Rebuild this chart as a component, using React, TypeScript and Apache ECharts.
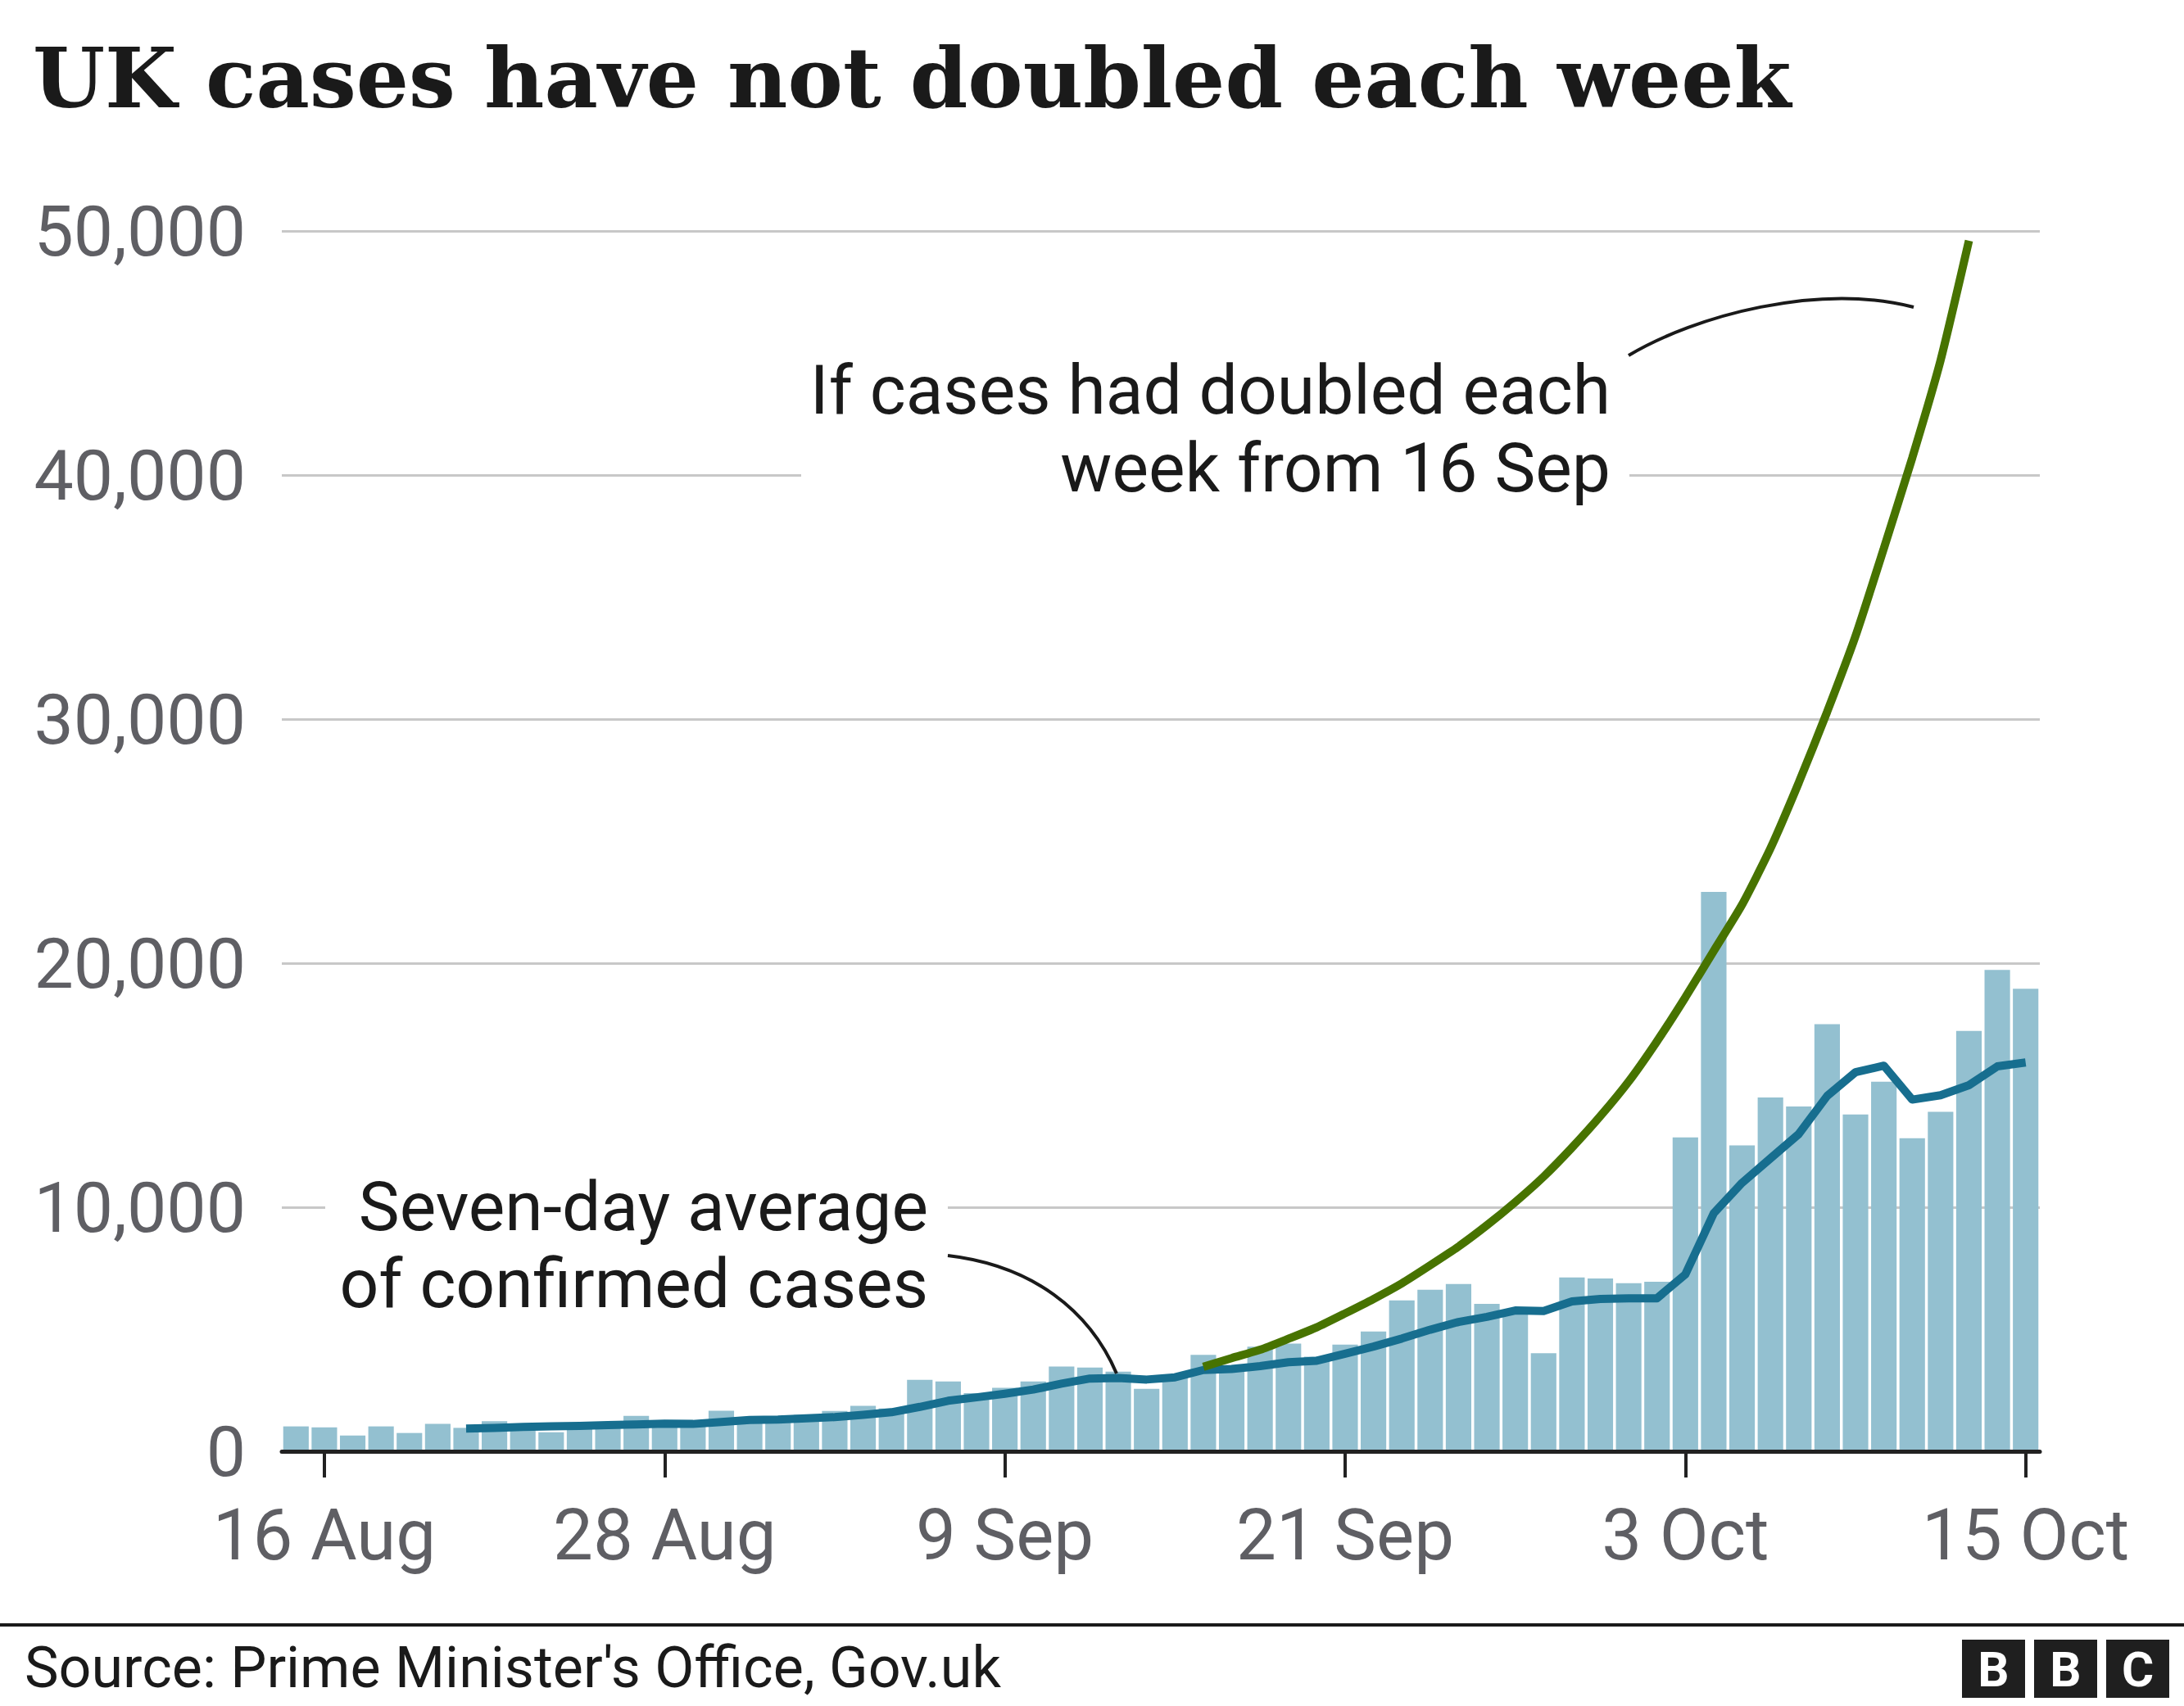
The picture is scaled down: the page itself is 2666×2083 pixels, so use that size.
import React, { useEffect, useRef } from 'react';
import * as echarts from 'echarts';

// ---- Data ----
const dates = [
  '15 Aug', '16 Aug', '17 Aug', '18 Aug', '19 Aug', '20 Aug', '21 Aug', '22 Aug', '23 Aug', '24 Aug',
  '25 Aug', '26 Aug', '27 Aug', '28 Aug', '29 Aug', '30 Aug', '31 Aug',
  '1 Sep', '2 Sep', '3 Sep', '4 Sep', '5 Sep', '6 Sep', '7 Sep', '8 Sep', '9 Sep', '10 Sep',
  '11 Sep', '12 Sep', '13 Sep', '14 Sep', '15 Sep', '16 Sep', '17 Sep', '18 Sep', '19 Sep', '20 Sep',
  '21 Sep', '22 Sep', '23 Sep', '24 Sep', '25 Sep', '26 Sep', '27 Sep', '28 Sep', '29 Sep', '30 Sep',
  '1 Oct', '2 Oct', '3 Oct', '4 Oct', '5 Oct', '6 Oct', '7 Oct', '8 Oct', '9 Oct', '10 Oct',
  '11 Oct', '12 Oct', '13 Oct', '14 Oct', '15 Oct',
];

const tickDates = ['16 Aug', '28 Aug', '9 Sep', '21 Sep', '3 Oct', '15 Oct'];

const dailyCases = [
  1020, 980, 650, 1020, 750, 1120, 960, 1230, 1050, 780,
  950, 1050, 1450, 1100, 1050, 1660, 1250,
  1300, 1490, 1650, 1860, 1750, 2930, 2860, 2380, 2600, 2860,
  3470, 3430, 3260, 2560, 3050, 3950, 3400, 4290, 4410, 3880,
  4370, 4910, 6180, 6620, 6850, 6040, 5750, 4020, 7120, 7080,
  6890, 6950, 12860, 22920, 12530, 14500, 14130, 17500, 13800, 15140,
  12830, 13910, 17220, 19720, 18950,
];

const sevenDayAverage = [
  null, null, null, null, null, null, 930, 960, 1000, 1020,
  1040, 1070, 1100, 1130, 1120, 1200, 1280,
  1300, 1350, 1400, 1490, 1600, 1820, 2070, 2210, 2360, 2530,
  2770, 2980, 3000, 2940, 3030, 3330, 3370, 3490, 3650, 3710,
  4000, 4290, 4620, 4980, 5300, 5510, 5770, 5750, 6140, 6240,
  6270, 6270, 7250, 9750, 11000, 12000, 13000, 14560, 15530, 15800,
  14410, 14590, 15000, 15770, 15930,
];

const doubledEachWeek = [
  null, null, null, null, null, null, null, null, null, null,
  null, null, null, null, null, null, null,
  null, null, null, null, null, null, null, null, null, null,
  null, null, null, null, null, 3460, 3820, 4160, 4610, 5080,
  5650, 6240, 6880, 7620, 8390, 9260, 10210, 11250, 12440, 13730,
  15150, 16800, 18600, 20500, 22400, 24700, 27400, 30300, 33400, 37000,
  40700, 44700, 49600, null, null,
];

const titleText = 'UK cases have not doubled each week';
const sourceText = "Source: Prime Minister's Office, Gov.uk";
const doubledLabel = 'If cases had doubled each\nweek from 16 Sep';
const averageLabel = 'Seven-day average\nof confirmed cases';

const W = 2666;
const H = 2083;
const SANS = 'Roboto, "Open Sans", sans-serif';

function fmt(v: number): string {
  return String(v).replace(/\B(?=(\d{3})+(?!\d))/g, ',');
}

export default function App() {
  const ref = useRef<HTMLDivElement>(null);

  useEffect(() => {
    if (!ref.current) return;
    const chart = echarts.init(ref.current, undefined, { renderer: 'svg', width: W, height: H });

    const isTick = (_i: number, v: string) => tickDates.includes(v);

    chart.setOption({
      animation: false,
      backgroundColor: '#ffffff',
      grid: { left: 344, right: 176, top: 282, bottom: 311, containLabel: false },
      xAxis: {
        type: 'category',
        data: dates,
        boundaryGap: true,
        axisLine: { show: true, lineStyle: { color: '#222222', width: 5 } },
        axisTick: {
          show: true,
          alignWithLabel: true,
          interval: isTick,
          length: 32,
          lineStyle: { color: '#222222', width: 4 },
        },
        axisLabel: {
          interval: isTick,
          fontFamily: SANS,
          fontSize: 87,
          color: '#5f5f64',
          margin: 58,
        },
        splitLine: { show: false },
        z: 5,
      },
      yAxis: {
        type: 'value',
        min: 0,
        max: 50000,
        interval: 10000,
        axisLine: { show: false },
        axisTick: { show: false },
        axisLabel: {
          formatter: (v: number) => fmt(v),
          fontFamily: SANS,
          fontSize: 86,
          color: '#5f5f64',
          margin: 44,
        },
        splitLine: { show: true, lineStyle: { color: '#c8c8c8', width: 3 } },
      },
      series: [
        {
          type: 'bar',
          data: dailyCases,
          barCategoryGap: '10%',
          itemStyle: { color: '#93c0d0' },
          z: 2,
        },
        {
          type: 'line',
          data: sevenDayAverage,
          symbol: 'none',
          lineStyle: { color: '#176e8f', width: 10, cap: 'butt', join: 'round' },
          z: 3,
        },
        {
          type: 'line',
          data: doubledEachWeek,
          symbol: 'none',
          smooth: 0.2,
          lineStyle: { color: '#477300', width: 10, cap: 'butt' },
          z: 4,
        },
      ],
      graphic: [
        {
          type: 'text',
          x: 40,
          y: 95,
          z: 60,
          style: {
            text: titleText,
            font: 'bold 101px "DejaVu Serif"',
            fill: '#1a1a1a',
            align: 'left',
            verticalAlign: 'middle',
          },
        },
        // white boxes hiding gridlines behind annotations
        { type: 'rect', z: 50, shape: { x: 978, y: 420, width: 1011, height: 205 }, style: { fill: '#ffffff' } },
        { type: 'rect', z: 50, shape: { x: 397, y: 1420, width: 760, height: 200 }, style: { fill: '#ffffff' } },
        {
          type: 'text',
          x: 1966,
          y: 429,
          z: 60,
          style: {
            text: doubledLabel,
            font: '84px ' + SANS,
            fill: '#1a1a1a',
            align: 'right',
            verticalAlign: 'top',
            lineHeight: 95,
          },
        },
        {
          type: 'text',
          x: 1133,
          y: 1426,
          z: 60,
          style: {
            text: averageLabel,
            font: '84px ' + SANS,
            fill: '#1a1a1a',
            align: 'right',
            verticalAlign: 'top',
            lineHeight: 94,
          },
        },
        {
          type: 'bezierCurve',
          z: 60,
          shape: { x1: 1988, y1: 434, cpx1: 2070, cpy1: 385, cpx2: 2220, cpy2: 345, x2: 2336, y2: 375 },
          style: { stroke: '#1a1a1a', lineWidth: 4, fill: 'none' },
        },
        {
          type: 'bezierCurve',
          z: 60,
          shape: { x1: 1157, y1: 1533, cpx1: 1260, cpy1: 1545, cpx2: 1330, cpy2: 1600, x2: 1363, y2: 1677 },
          style: { stroke: '#1a1a1a', lineWidth: 4, fill: 'none' },
        },
        {
          type: 'line',
          z: 60,
          shape: { x1: 0, y1: 1984, x2: W, y2: 1984 },
          style: { stroke: '#1a1a1a', lineWidth: 4 },
        },
        {
          type: 'text',
          x: 30,
          y: 2036,
          z: 60,
          style: {
            text: sourceText,
            font: '70px ' + SANS,
            fill: '#1a1a1a',
            align: 'left',
            verticalAlign: 'middle',
          },
        },
        { type: 'rect', z: 60, shape: { x: 2395, y: 2002, width: 77, height: 71 }, style: { fill: '#1f1f1f' } },
        { type: 'rect', z: 60, shape: { x: 2483, y: 2002, width: 77, height: 71 }, style: { fill: '#1f1f1f' } },
        { type: 'rect', z: 60, shape: { x: 2571, y: 2002, width: 77, height: 71 }, style: { fill: '#1f1f1f' } },
        { type: 'text', z: 61, x: 2433.5, y: 2038, style: { text: 'B', font: 'bold 60px ' + SANS, fill: '#ffffff', align: 'center', verticalAlign: 'middle' } },
        { type: 'text', z: 61, x: 2521.5, y: 2038, style: { text: 'B', font: 'bold 60px ' + SANS, fill: '#ffffff', align: 'center', verticalAlign: 'middle' } },
        { type: 'text', z: 61, x: 2609.5, y: 2038, style: { text: 'C', font: 'bold 60px ' + SANS, fill: '#ffffff', align: 'center', verticalAlign: 'middle' } },
      ],
    });

    return () => chart.dispose();
  }, []);

  return (
    <div
      ref={ref}
      style={{ position: 'absolute', left: 0, top: 0, width: W + 'px', height: H + 'px', background: '#fff' }}
    />
  );
}
